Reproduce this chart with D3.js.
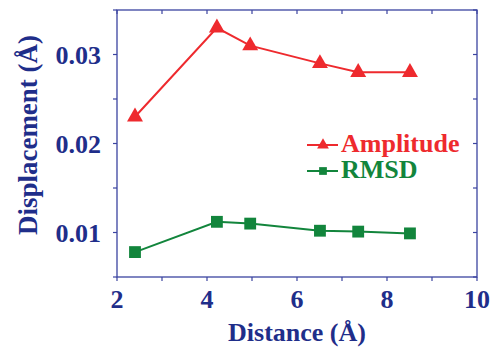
<!DOCTYPE html>
<html>
<head>
<meta charset="utf-8">
<script src="https://cdn.jsdelivr.net/npm/d3@7"></script>
<style>
  body { margin: 0; background: #fff; }
  text { font-family: "Liberation Serif", "Times New Roman", serif; font-weight: bold; }
</style>
</head>
<body>
<script>
const distance = [2.4, 4.22, 4.96, 6.51, 7.36, 8.51];
const amplitude = [0.023, 0.033, 0.031, 0.029, 0.028, 0.028];
const rmsd = [0.0078, 0.0112, 0.011, 0.0102, 0.0101, 0.0099];
const xTicks = [2, 4, 6, 8, 10];
const yTicks = [0.01, 0.02, 0.03];

const W = 491, H = 347;
const margin = {left: 117, top: 10, right: 14, bottom: 70};
const axisColor = "#3b44a0";
const textColor = "#1f2e8a";
const red = "#ee2a2e";
const green = "#12853c";

const svg = d3.select("body").append("svg")
  .attr("width", W)
  .attr("height", H);

const x = d3.scaleLinear().domain([2, 10]).range([margin.left, W - margin.right]);
const y = d3.scaleLinear().domain([0.005, 0.035]).range([H - margin.bottom, margin.top]);

// frame
svg.append("rect")
  .attr("x", x(2)).attr("y", y(0.035))
  .attr("width", x(10) - x(2)).attr("height", y(0.005) - y(0.035))
  .attr("fill", "none").attr("stroke", axisColor).attr("stroke-width", 1.3);

const xAll = d3.range(2, 11, 1);
const yAll = d3.range(0.005, 0.0351, 0.005);

// ticks: bottom/left outward, top/right inward
svg.append("g").selectAll("line").data(xAll).join("line")
  .attr("x1", d => x(d)).attr("x2", d => x(d))
  .attr("y1", y(0.005)).attr("y2", y(0.005) + 4)
  .attr("stroke", axisColor).attr("stroke-width", 1.2);
svg.append("g").selectAll("line").data(xAll).join("line")
  .attr("x1", d => x(d)).attr("x2", d => x(d))
  .attr("y1", y(0.035)).attr("y2", y(0.035) + 4)
  .attr("stroke", axisColor).attr("stroke-width", 1.2);
svg.append("g").selectAll("line").data(yAll).join("line")
  .attr("x1", x(2) - 4).attr("x2", x(2))
  .attr("y1", d => y(d)).attr("y2", d => y(d))
  .attr("stroke", axisColor).attr("stroke-width", 1.2);
svg.append("g").selectAll("line").data(yAll).join("line")
  .attr("x1", x(10) - 4).attr("x2", x(10))
  .attr("y1", d => y(d)).attr("y2", d => y(d))
  .attr("stroke", axisColor).attr("stroke-width", 1.2);

// tick labels
svg.append("g").selectAll("text").data(xTicks).join("text")
  .attr("x", d => x(d)).attr("y", y(0.005) + 31)
  .attr("text-anchor", "middle")
  .attr("font-size", 26).attr("fill", textColor)
  .text(d => d);
svg.append("g").selectAll("text").data(yTicks).join("text")
  .attr("x", x(2) - 16).attr("y", d => y(d) + 9)
  .attr("text-anchor", "end")
  .attr("font-size", 26).attr("fill", textColor)
  .text(d => d3.format(".2f")(d));

// axis titles
svg.append("text")
  .attr("x", (x(2) + x(10)) / 2).attr("y", 341)
  .attr("text-anchor", "middle")
  .attr("font-size", 26).attr("fill", textColor)
  .text("Distance (Å)");
svg.append("text")
  .attr("transform", `translate(37, ${135}) rotate(-90)`)
  .attr("text-anchor", "middle")
  .attr("font-size", 27).attr("fill", textColor)
  .text("Displacement (Å)");

const tri = d3.symbol().type(d3.symbolTriangle).size(110);
const sq = d3.symbol().type(d3.symbolSquare).size(140);

function drawSeries(vals, color, sym) {
  const pts = distance.map((d, i) => [d, vals[i]]);
  svg.append("path")
    .datum(pts)
    .attr("fill", "none").attr("stroke", color).attr("stroke-width", 2)
    .attr("d", d3.line().x(d => x(d[0])).y(d => y(d[1])));
  svg.append("g").selectAll("path").data(pts).join("path")
    .attr("transform", d => `translate(${x(d[0])}, ${y(d[1])})`)
    .attr("d", sym).attr("fill", color);
}
drawSeries(amplitude, red, tri);
drawSeries(rmsd, green, sq);

// legend
const legend = [
  {name: "Amplitude", color: red, sym: d3.symbol().type(d3.symbolTriangle).size(60), y: 145},
  {name: "RMSD", color: green, sym: d3.symbol().type(d3.symbolSquare).size(60), y: 171}
];
const lg = svg.append("g").selectAll("g").data(legend).join("g")
  .attr("transform", d => `translate(307, ${d.y})`);
lg.append("line")
  .attr("x1", 0).attr("x2", 31)
  .attr("stroke", d => d.color).attr("stroke-width", 2);
lg.append("path")
  .attr("transform", "translate(16, 0)")
  .attr("d", d => d.sym())
  .attr("fill", d => d.color);
lg.append("text")
  .attr("x", 34).attr("y", 7)
  .attr("font-size", 26).attr("fill", d => d.color)
  .text(d => d.name);
</script>
</body>
</html>
